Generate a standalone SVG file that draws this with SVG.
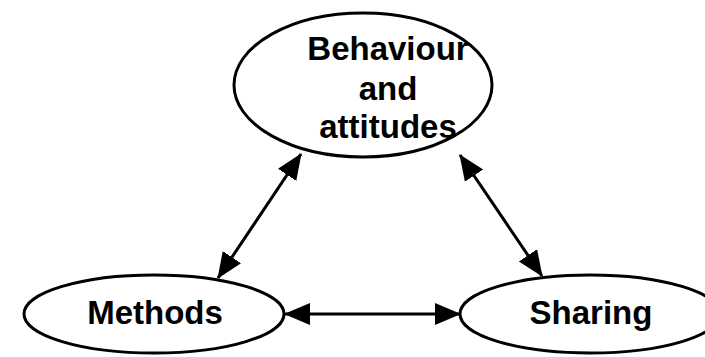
<svg xmlns="http://www.w3.org/2000/svg" width="705" height="357" viewBox="0 0 705 357">
<defs>
<style>
.node ellipse{fill:#fff;stroke:#000;stroke-width:3}
.node text{font-family:"Liberation Sans",Arial,sans-serif;font-weight:bold;font-size:33px;fill:#000;text-anchor:middle}
.conn line{stroke:#000;stroke-width:3}
</style>
<marker id="ah" markerUnits="userSpaceOnUse" markerWidth="26" markerHeight="24" viewBox="0 0 26 24" refX="25" refY="12" orient="auto-start-reverse">
<path d="M0,1 L26,12 L0,23 Z" fill="#000"/>
</marker>
</defs>
<rect width="705" height="357" fill="#fff"/>
<g id="connectors" class="conn">
<line x1="301" y1="154" x2="218" y2="278" marker-start="url(#ah)" marker-end="url(#ah)"/>
<line x1="460" y1="155" x2="542" y2="276" marker-start="url(#ah)" marker-end="url(#ah)"/>
<line x1="285" y1="314" x2="460" y2="314" marker-start="url(#ah)" marker-end="url(#ah)"/>
</g>
<g id="behaviour" class="node">
<ellipse cx="363" cy="85" rx="129" ry="72"/>
<text x="388" y="60">Behaviour</text>
<text x="388" y="100">and</text>
<text x="388" y="138">attitudes</text>
</g>
<g id="methods" class="node">
<ellipse cx="154" cy="314" rx="130" ry="39"/>
<text x="155" y="324">Methods</text>
</g>
<g id="sharing" class="node">
<ellipse cx="590" cy="314" rx="130" ry="39"/>
<text x="591" y="324">Sharing</text>
</g>
</svg>
